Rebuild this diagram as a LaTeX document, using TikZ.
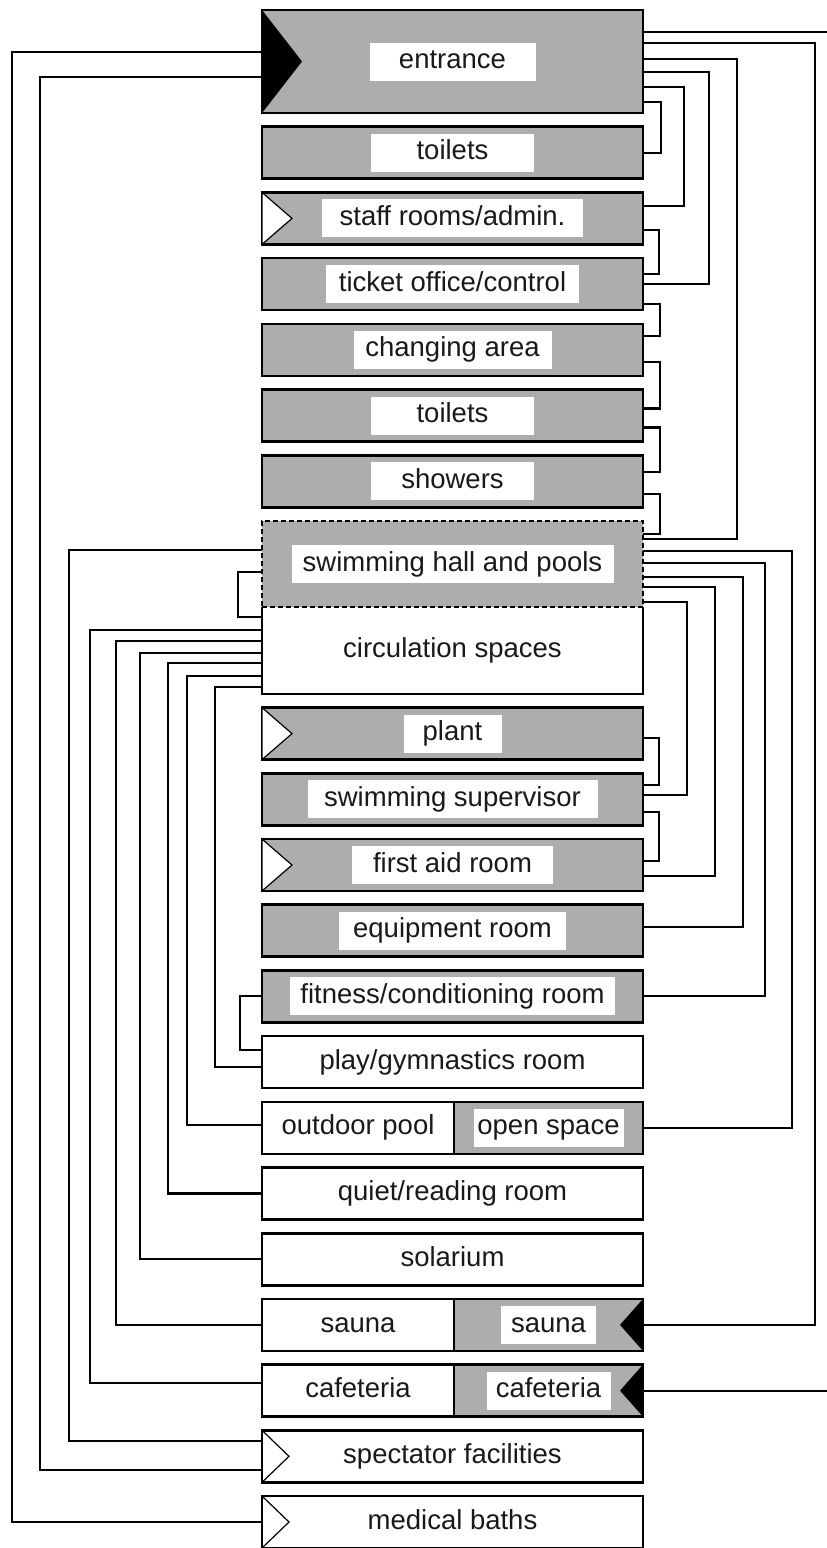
\documentclass[tikz,border=0pt]{standalone}
\usepackage{fontspec}
\setmainfont{Liberation Sans}
\usetikzlibrary{positioning}
\tikzset{
  room/.style={rectangle,draw,line width=2.6pt,minimum width=381pt,minimum height=52pt,
    inner sep=0pt,outer sep=0pt,align=center,text=black!90,text height=16.5pt,text depth=2.2pt,
    font=\fontsize{27.5pt}{32pt}\selectfont},
  hatched/.style={room,fill=black!32,
    path picture={\fill[white] (path picture bounding box.center) ++({-#1/2},-19) rectangle ++(#1,38);}},
  link/.style={line width=2.1pt}
}

\begin{document}
\begin{tikzpicture}[x=1pt,y=1pt,node distance=13.7pt]
\useasboundingbox (0,0) rectangle (827,-1548);
\node[hatched=166, minimum height=103pt] (entr) at (452.5,-61.5) {entrance};
\node[hatched=163, below=of entr] (toil1) {toilets};
\node[hatched=261, below=of toil1] (staff) {staff rooms/admin.};
\node[hatched=253, below=of staff] (ticket) {ticket office/control};
\node[hatched=198, below=of ticket] (chg) {changing area};
\node[hatched=163, below=of chg] (toil2) {toilets};
\node[hatched=163, below=of toil2] (show) {showers};
\node[hatched=322, dash pattern=on 5pt off 3pt, minimum height=86pt, below=of show] (swim) {swimming hall and pools};
\node[room, draw=none, minimum height=87pt, below=0pt of swim] (circ) {circulation spaces};
\draw[line width=2.6pt] (circ.north west) -- (circ.south west) -- (circ.south east) -- (circ.north east);
\node[hatched=98, below=of circ] (plant) {plant};
\node[hatched=290, below=of plant] (sup) {swimming supervisor};
\node[hatched=201, below=of sup] (aid) {first aid room};
\node[hatched=227, below=of aid] (equip) {equipment room};
\node[hatched=325, below=of equip] (fit) {fitness/conditioning room};
\node[room, below=of fit] (play) {play/gymnastics room};
\node[room, minimum width=192pt, below=of play.south west, anchor=north west] (outdoor) {outdoor pool};
\node[hatched=150, minimum width=189pt, right=0pt of outdoor] (open) {open space};
\node[room, below=of outdoor.south west, anchor=north west] (quiet) {quiet/reading room};
\node[room, below=of quiet] (sol) {solarium};
\node[room, minimum width=192pt, below=of sol.south west, anchor=north west] (sauna1) {sauna};
\node[hatched=95, minimum width=189pt, right=0pt of sauna1] (sauna2) {sauna};
\node[room, minimum width=192pt, below=of sauna1.south west, anchor=north west] (cafe1) {cafeteria};
\node[hatched=124, minimum width=189pt, right=0pt of cafe1] (cafe2) {cafeteria};
\node[room, below=of cafe1.south west, anchor=north west] (spect) {spectator facilities};
\node[room, below=of spect] (med) {medical baths};

% access marks
\fill (entr.north west) -- ([xshift=40pt]entr.west) -- (entr.south west) -- cycle;
\foreach \n in {staff,plant,aid}
  \filldraw[fill=white, line width=1.2pt] (\n.north west) -- ([xshift=30pt]\n.west) -- (\n.south west) -- cycle;
\foreach \n in {spect,med}
  \draw[line width=1.2pt] (\n.north west) -- ([xshift=27pt]\n.west) -- (\n.south west);
\foreach \n in {sauna2,cafe2}
  \fill (\n.north east) -- ([xshift=-23pt]\n.east) -- (\n.south east) -- cycle;

% right side
\draw[link] ([yshift=29.5pt]entr.east) -- ++(190,0) |- (cafe2.east);
\draw[link] ([yshift=18.5pt]entr.east) -- ++(172,0) |- (sauna2.east);
\draw[link] ([yshift=2.5pt]entr.east) -- ++(94,0) |- ([yshift=25pt]swim.east);
\draw[link] ([yshift=-10.5pt]entr.east) -- ++(66,0) |- (ticket.east);
\draw[link] ([yshift=-25.5pt]entr.east) -- ++(41,0) |- ([yshift=12pt]staff.east);
\draw[link] ([yshift=-40.5pt]entr.east) -- ++(18,0) |- (toil1.east);
\draw[link] ([yshift=-12pt]staff.east) -- ++(16,0) |- ([yshift=10.5pt]ticket.east);
\draw[link] ([yshift=-19.5pt]ticket.east) -- ++(17,0) |- ([yshift=13.5pt]chg.east);
\draw[link] ([yshift=-12.5pt]chg.east) -- ++(17,0) |- ([yshift=7pt]toil2.east);
\draw[link] ([yshift=-12pt]toil2.east) -- ++(17,0) |- ([yshift=9.5pt]show.east);
\draw[link] ([yshift=-12.5pt]show.east) -- ++(17,0) |- ([yshift=30pt]swim.east);
\draw[link] ([yshift=13pt]swim.east) -- ++(149,0) |- (open.east);
\draw[link] ([yshift=1pt]swim.east) -- ++(122,0) |- (fit.east);
\draw[link] ([yshift=-13pt]swim.east) -- ++(100,0) |- ([yshift=3.5pt]equip.east);
\draw[link] ([yshift=-23pt]swim.east) -- ++(72,0) |- ([yshift=-11pt]aid.east);
\draw[link] ([yshift=-38pt]swim.east) -- ++(44,0) |- ([yshift=4pt]sup.east);
\draw[link] ([yshift=-4pt]plant.east) -- ++(16,0) |- ([yshift=14pt]sup.east);
\draw[link] ([yshift=-13pt]sup.east) -- ++(16,0) |- ([yshift=4pt]aid.east);

% left side
\draw[link] ([yshift=9.5pt]entr.west) -- ++(-250,0) |- (med.west);
\draw[link] ([yshift=-15.5pt]entr.west) -- ++(-222,0) |- ([yshift=-14pt]spect.west);
\draw[link] ([yshift=14pt]swim.west) -- ++(-193,0) |- ([yshift=15pt]spect.west);
\draw[link] ([yshift=-8pt]swim.west) -- ++(-24,0) |- ([yshift=33.5pt]circ.west);
\draw[link] ([yshift=20.5pt]circ.west) -- ++(-172,0) |- ([yshift=7.5pt]cafe1.west);
\draw[link] ([yshift=9.5pt]circ.west) -- ++(-146,0) |- (sauna1.west);
\draw[link] ([yshift=-2.5pt]circ.west) -- ++(-122,0) |- (sol.west);
\draw[link] ([yshift=-12.5pt]circ.west) -- ++(-94,0) |- (quiet.west);
\draw[link] ([yshift=-25.5pt]circ.west) -- ++(-75,0) |- ([yshift=3pt]outdoor.west);
\draw[link] ([yshift=-36.5pt]circ.west) -- ++(-47,0) |- ([yshift=-5pt]play.west);
\draw[link] (fit.west) -- ++(-22,0) |- ([yshift=12pt]play.west);
\end{tikzpicture}
\end{document}
